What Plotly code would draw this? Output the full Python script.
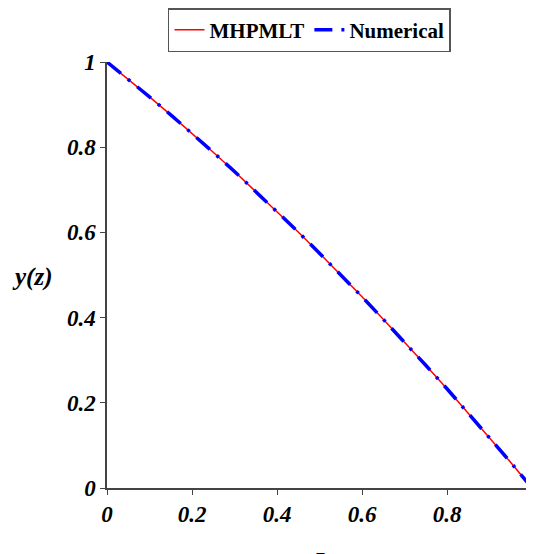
import plotly.graph_objects as go

z_vals = [0.0, 0.05, 0.1, 0.15, 0.2, 0.25, 0.3, 0.35, 0.4, 0.45, 0.5,
          0.55, 0.6, 0.65, 0.7, 0.75, 0.8, 0.85, 0.9, 0.95, 1.0]
y_mhpmlt = [1.0, 0.960, 0.918, 0.876, 0.833, 0.788, 0.743, 0.696, 0.649, 0.601, 0.551,
            0.501, 0.449, 0.396, 0.343, 0.288, 0.233, 0.176, 0.118, 0.060, 0.0]
y_numerical = [1.0, 0.960, 0.918, 0.876, 0.833, 0.788, 0.743, 0.696, 0.649, 0.601, 0.551,
               0.501, 0.449, 0.396, 0.343, 0.288, 0.233, 0.176, 0.118, 0.060, 0.0]
tick_vals = [0, 0.2, 0.4, 0.6, 0.8, 1]
tick_text = ["0", "0.2", "0.4", "0.6", "0.8", "1"]

serif = "Liberation Serif"
tfont = dict(family=serif, size=23, color="black", weight="bold", style="italic")

fig = go.Figure()
fig.add_trace(go.Scatter(x=z_vals, y=y_mhpmlt, mode="lines", name="MHPMLT",
                         line=dict(color="red", width=1.5)))
fig.add_trace(go.Scatter(x=z_vals, y=y_numerical, mode="lines", name="Numerical",
                         line=dict(color="blue", width=3.5, dash="18px,9px,3px,9px")))

fig.update_layout(
    width=534, height=554,
    margin=dict(l=99, r=10, t=54, b=74, autoexpand=False),
    plot_bgcolor="white", paper_bgcolor="white",
    showlegend=True,
    legend=dict(orientation="h", xref="container", yref="container",
                x=0.2996, xanchor="left", y=1.0, yanchor="top",
                bordercolor="#555", borderwidth=1.5, bgcolor="white",
                font=dict(family=serif, size=21, color="black", weight="bold"),
                itemwidth=30, tracegroupgap=0),
    xaxis=dict(range=[0, 1], tickvals=tick_vals, ticktext=tick_text,
               showgrid=False, zeroline=False, showline=True, linecolor="#444",
               linewidth=1.5, ticks="outside", ticklen=5, tickcolor="#444",
               tickfont=tfont),
    yaxis=dict(range=[0, 1], tickvals=tick_vals, ticktext=tick_text,
               showgrid=False, zeroline=False, showline=True, linecolor="#444",
               linewidth=1.5, ticks="outside", ticklen=5, tickcolor="#444",
               tickfont=tfont),
    annotations=[
        dict(text="y(z)", xref="paper", yref="paper", x=-0.177, y=0.495,
             xanchor="center", yanchor="middle", showarrow=False,
             font=dict(family=serif, size=25, color="black", weight="bold", style="italic")),
        dict(text="z", xref="paper", yref="paper", x=0.5, y=-0.125,
             xanchor="center", yanchor="top", showarrow=False,
             font=dict(family=serif, size=25, color="black", weight="bold", style="italic")),
    ],
)

fig.write_html("out.html")
